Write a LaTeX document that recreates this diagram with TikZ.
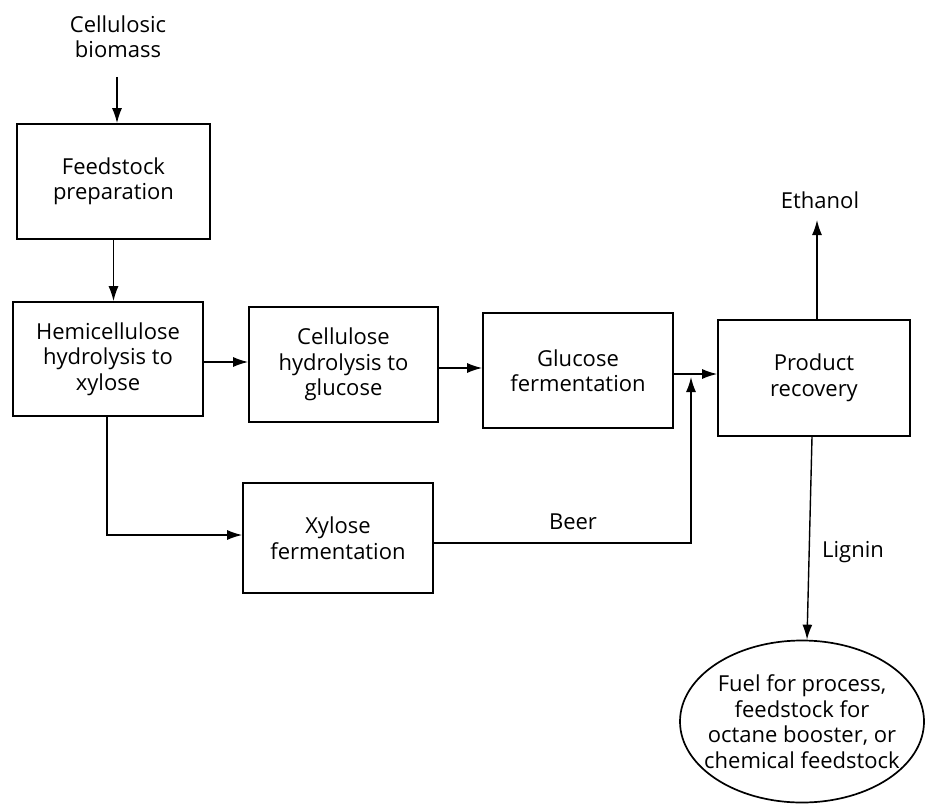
\documentclass[tikz,border=0pt]{standalone}
\usepackage{fontspec}
\setmainfont{Open Sans}
\usetikzlibrary{arrows.meta,shapes.geometric}
\begin{document}
\begin{tikzpicture}[x=1pt,y=-1pt,
  every node/.style={font=\fontsize{22}{25.5}\selectfont, align=center, text=black},
  procbox/.style={draw, line width=1.7pt, inner sep=0pt},
  arr/.style={line width=1.4pt, -{Latex[length=15pt,width=10pt]}},
  plain/.style={line width=1.4pt}]
\useasboundingbox (0,0) rectangle (925,805);
\node (bio) at (118,37) {Cellulosic\\biomass};
\node[procbox, minimum width=193pt, minimum height=115pt] (feed) at (113.5,181.5) {Feedstock\\preparation};
\node[procbox, minimum width=190pt, minimum height=114pt] (hemi) at (108,359) {Hemicellulose\\hydrolysis to\\xylose};
\node[procbox, minimum width=189pt, minimum height=115pt] (cell) at (343.5,364.5) {Cellulose\\hydrolysis to\\glucose};
\node[procbox, minimum width=190pt, minimum height=115pt] (glu) at (578,370.5) {Glucose\\fermentation};
\node[procbox, minimum width=192pt, minimum height=116pt] (prod) at (814,378) {Product\\recovery};
\node[procbox, minimum width=190pt, minimum height=110pt] (xyl) at (338,538) {Xylose\\fermentation};
\node[draw, ellipse, line width=1.7pt, inner xsep=-40pt, inner ysep=-40pt, minimum width=244pt, minimum height=162pt] (fuel) at (802,721.5) {Fuel for process,\\feedstock for\\octane booster, or\\chemical feedstock};
\node (eth) at (820,200) {Ethanol};
\node (beer) at (573,522) {Beer};
\node (lig) at (853,552) {Lignin};
\coordinate (biotop) at (117,77);
\coordinate (ethtip) at (817,220);
\coordinate (join) at (691,377);
\draw[arr] (biotop) -- (biotop |- feed.north);
\draw[arr] (feed.south) -- (feed.south |- hemi.north);
\draw[arr] ([yshift=-3pt]hemi.east) -- ([yshift=-3pt]hemi.east -| cell.west);
\draw[arr] ([yshift=-3.5pt]cell.east) -- ([yshift=-3.5pt]cell.east -| glu.west);
\draw[arr] ([yshift=-3.5pt]glu.east) -- ([yshift=-3.5pt]glu.east -| prod.west);
\draw[arr] ([xshift=-1pt]hemi.south) |- ([yshift=3pt]xyl.west);
\draw[arr] ([yshift=-5pt]xyl.east) -| (join);
\draw[arr] ([xshift=-2pt]prod.south) -- ([xshift=5pt]fuel.north);
\draw[arr] ([xshift=3pt]prod.north) -- (ethtip);
\end{tikzpicture}
\end{document}
